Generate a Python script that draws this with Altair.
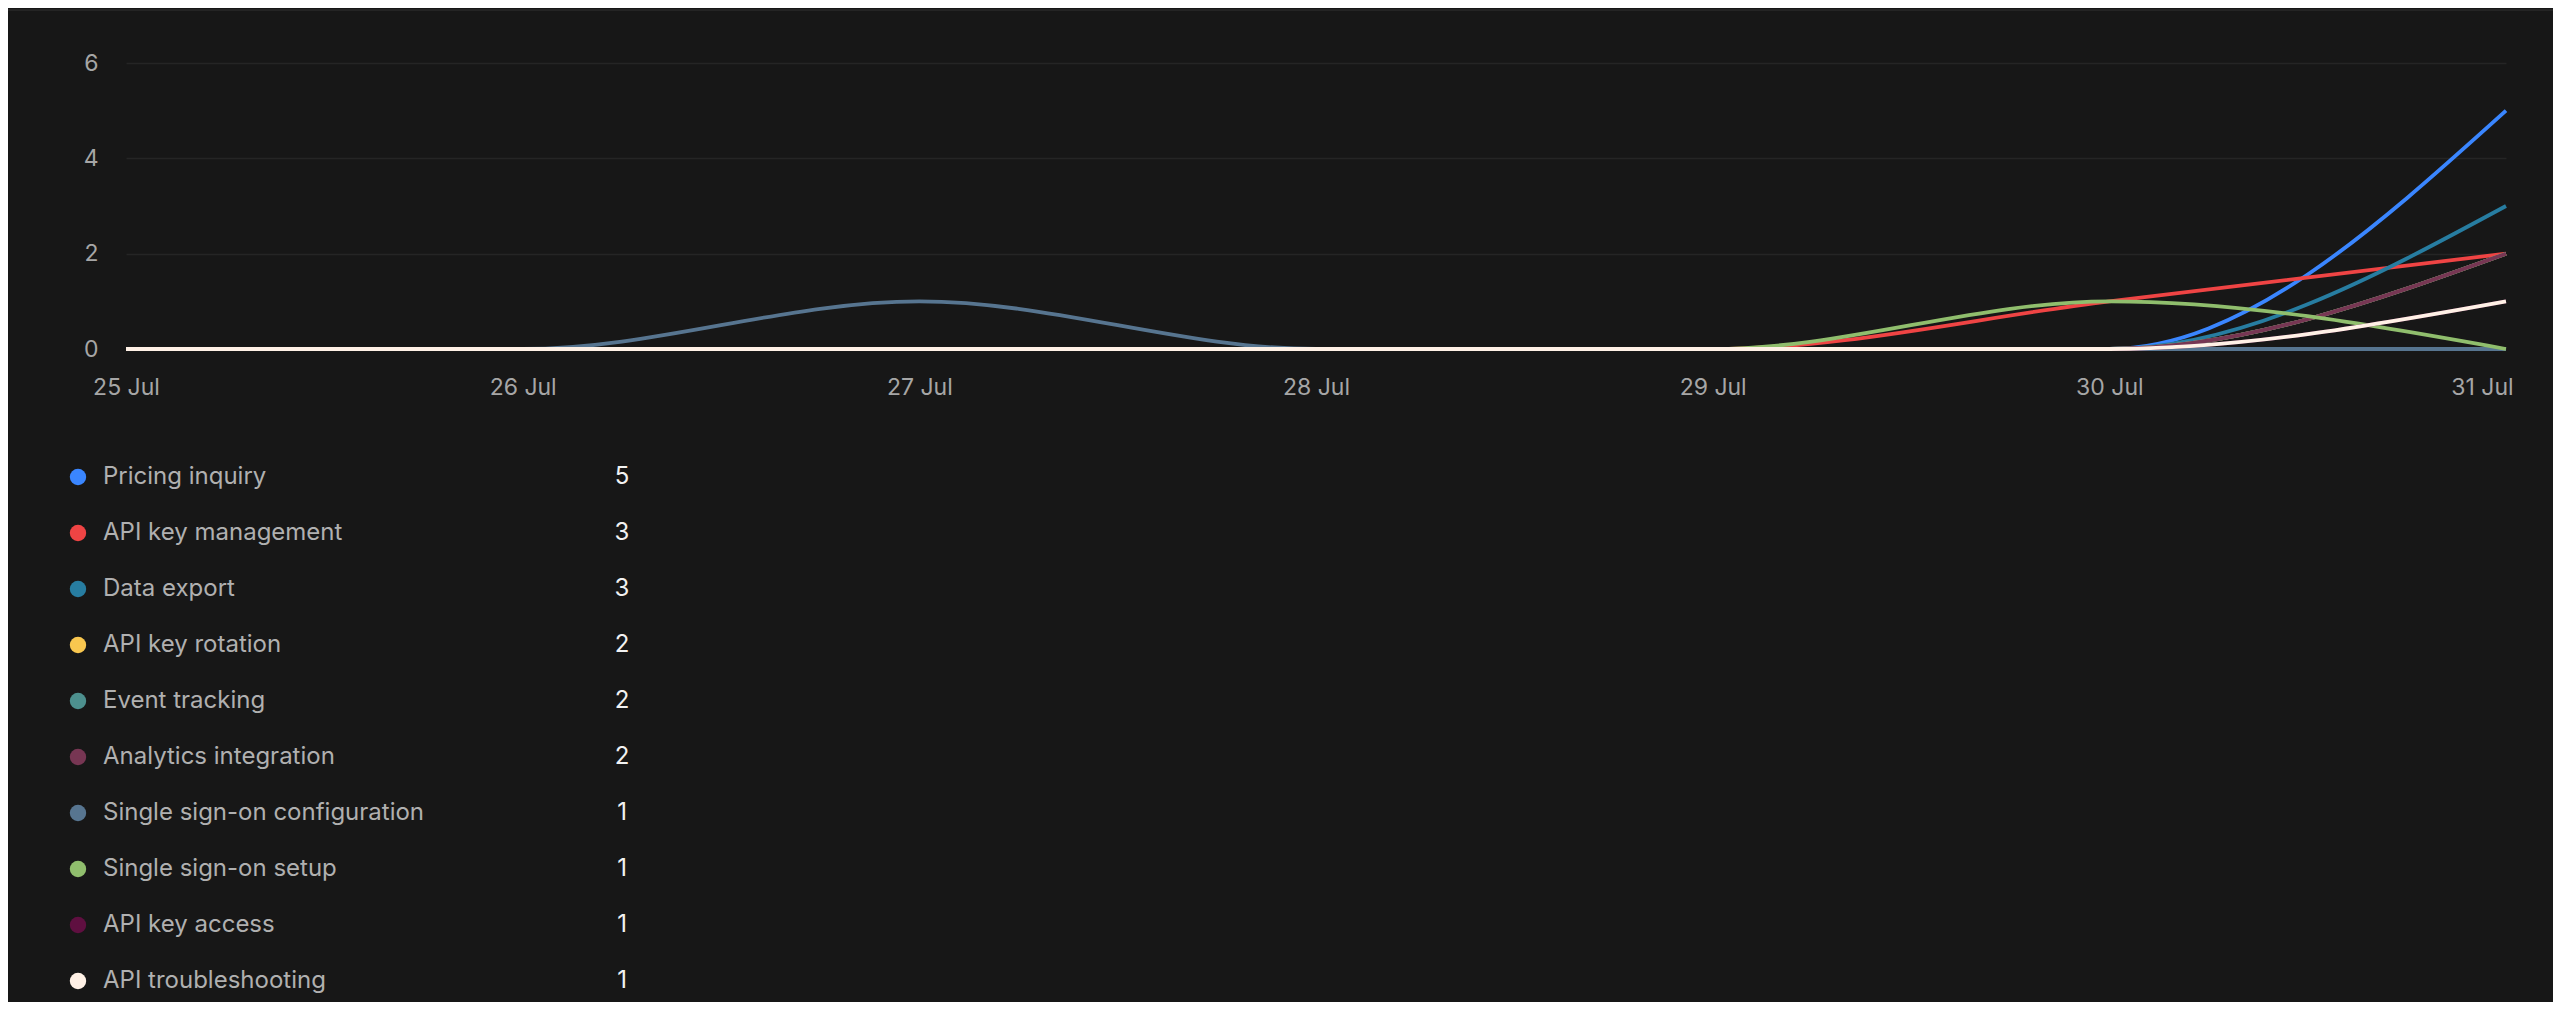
import altair as alt
import pandas as pd

# ---- data -------------------------------------------------------------
days = ["25 Jul", "26 Jul", "27 Jul", "28 Jul", "29 Jul", "30 Jul", "31 Jul"]

names = [
    "Pricing inquiry",
    "API key management",
    "Data export",
    "API key rotation",
    "Event tracking",
    "Analytics integration",
    "Single sign-on configuration",
    "Single sign-on setup",
    "API key access",
    "API troubleshooting",
]

colors = [
    "#3a86ff",
    "#ef4444",
    "#277da1",
    "#f9c74f",
    "#4d908e",
    "#773653",
    "#577590",
    "#90be6d",
    "#5f0f40",
    "#fff1e6",
]

pricing_inquiry = [0, 0, 0, 0, 0, 0, 5]
api_key_management = [0, 0, 0, 0, 0, 1, 2]
data_export = [0, 0, 0, 0, 0, 0, 3]
api_key_rotation = [0, 0, 0, 0, 0, 0, 2]
event_tracking = [0, 0, 0, 0, 0, 0, 2]
analytics_integration = [0, 0, 0, 0, 0, 0, 2]
sso_configuration = [0, 0, 1, 0, 0, 0, 0]
sso_setup = [0, 0, 0, 0, 0, 1, 0]
api_key_access = [0, 0, 0, 0, 0, 0, 1]
api_troubleshooting = [0, 0, 0, 0, 0, 0, 1]

series = [
    pricing_inquiry,
    api_key_management,
    data_export,
    api_key_rotation,
    event_tracking,
    analytics_integration,
    sso_configuration,
    sso_setup,
    api_key_access,
    api_troubleshooting,
]

totals = [5, 3, 3, 2, 2, 2, 1, 1, 1, 1]
y_ticks = [0, 2, 4, 6]

# ---- tables -----------------------------------------------------------
rows = []
for n, vals in zip(names, series):
    for d, v in zip(days, vals):
        rows.append({"day": d, "topic": n, "count": v})
df = pd.DataFrame(rows)

legend_df = pd.DataFrame({"topic": names, "total": [str(t) for t in totals]})

FONT = "Inter"
AXIS_COLOR = "#a6a6a6"
color_scale = alt.Scale(domain=names, range=colors)

# ---- line chart -------------------------------------------------------
lines = (
    alt.Chart(df)
    .mark_line(strokeWidth=3.8, interpolate="monotone")
    .encode(
        x=alt.X(
            "day:O",
            sort=days,
            scale=alt.Scale(padding=0),
            axis=alt.Axis(
                title=None,
                labelAngle=0,
                labelPadding=27,
                labelFont=FONT,
                labelFontSize=23,
                labelColor=AXIS_COLOR,
                ticks=False,
                domain=False,
                grid=False,
                labelOffset={
                    "condition": {"test": "datum.label == '31 Jul'", "value": -24},
                    "value": 0,
                },
            ),
        ),
        y=alt.Y(
            "count:Q",
            scale=alt.Scale(domain=[0, 6], nice=False),
            axis=alt.Axis(
                values=y_ticks,
                title=None,
                labelPadding=28,
                labelFont=FONT,
                labelFontSize=23,
                labelColor=AXIS_COLOR,
                ticks=False,
                domain=False,
                grid=True,
                gridColor="#252525",
                gridWidth=1.5,
            ),
        ),
        color=alt.Color("topic:N", scale=color_scale, sort=names, legend=None),
    )
)

# ---- custom legend ----------------------------------------------------
leg_y = alt.Y(
    "topic:N",
    sort=names,
    axis=None,
    scale=alt.Scale(range=[414, 918], padding=0),
)

dots = (
    alt.Chart(legend_df)
    .mark_point(filled=True, size=270, opacity=1, shape="circle", strokeWidth=0)
    .encode(
        x=alt.value(-48),
        y=leg_y,
        color=alt.Color("topic:N", scale=color_scale, sort=names, legend=None),
    )
)

labels = (
    alt.Chart(legend_df)
    .mark_text(align="left", baseline="middle", font=FONT, fontSize=24, color="#b0b0b0")
    .encode(x=alt.value(-23), y=leg_y, text="topic:N")
)

values = (
    alt.Chart(legend_df)
    .mark_text(align="center", baseline="middle", font=FONT, fontSize=24, color="#f2f2f2")
    .encode(x=alt.value(496), y=leg_y, text="total:N")
)

border = (
    alt.Chart(pd.DataFrame({"k": [0]}))
    .mark_rule(color="#2a2a2a", strokeWidth=1.5)
    .encode(x=alt.value(-118), x2=alt.value(2430), y=alt.value(-53))
)

chart = (
    alt.layer(border, lines, dots, labels, values)
    .resolve_scale(y="independent")
    .properties(
        width=2380,
        height=286,
        autosize=alt.AutoSizeParams(type="none"),
        padding={"left": 118, "top": 55, "right": 47, "bottom": 653},
        background="#171717",
    )
    .configure_view(stroke=None)
)

chart.save("out.html", embed_options={"renderer": "svg", "actions": False})
